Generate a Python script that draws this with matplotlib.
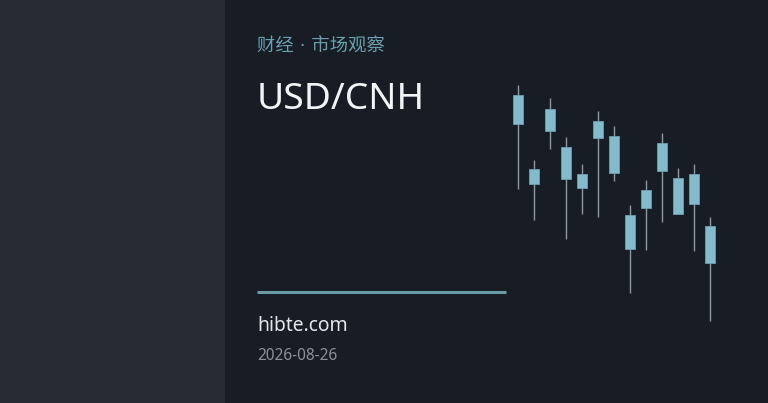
import matplotlib
matplotlib.use("Agg")
import matplotlib.pyplot as plt
from matplotlib.patches import Rectangle

# --- данные свечей (условные единицы цены) ---
highs = [245, 170, 232, 193, 166, 219, 204, 125, 150, 197, 162, 166, 113]
opens = [235, 161, 221, 183, 156, 209, 194, 115, 140, 187, 152, 156, 104]
closes = [206, 146, 199, 151, 142, 192, 157, 81, 122, 159, 116, 126, 67]
lows = [141, 110, 181, 91, 116, 113, 149, 37, 80, 108, 116, 79, 9]

tag_text = "财经 · 市场观察"
title_text = "USD/CNH"
site_text = "hibte.com"
date_text = "2026-08-26"

W, H = 768, 403
fig = plt.figure(figsize=(W / 100, H / 100), dpi=100)
fig.patch.set_facecolor("#181c24")

# левая панель
fig.patches.append(Rectangle((0, 0), 225 / W, 1, transform=fig.transFigure,
                             facecolor="#262a33", edgecolor="none", zorder=0))

# --- тексты ---
fig.text(257 / W, 1 - 47 / H, tag_text, color="#6a9fb0", fontsize=13.2,
         family=["DejaVu Sans", "Noto Sans CJK SC"], va="center", ha="left")
fig.text(257 / W, 1 - 100 / H, title_text, color="#f2f4f6", fontsize=26.8,
         family=["Noto Sans", "DejaVu Sans"], va="center", ha="left")
fig.text(257 / W, 1 - 326 / H, site_text, color="#e4e7ea", fontsize=13.9,
         family=["Noto Sans", "DejaVu Sans"], va="center", ha="left")
fig.text(257 / W, 1 - 356.5 / H, date_text, color="#8a9099", fontsize=11.1,
         family=["Noto Sans", "DejaVu Sans"], va="center", ha="left")

# линия-разделитель
fig.add_artist(plt.Line2D([257 / W, 506 / W], [1 - 292.3 / H] * 2,
                          transform=fig.transFigure, color="#6a9ca8",
                          linewidth=2.2, solid_capstyle="butt"))

# --- свечи ---
ax = fig.add_axes([500 / W, 1 - 330 / H, 230 / W, 250 / H])
ax.set_facecolor("none")
ax.set_xlim((500 - 518.3) / 16, (730 - 518.3) / 16)
ax.set_ylim(0, 250)
ax.axis("off")

body_w = 0.62
for i in range(len(highs)):
    ax.plot([i, i], [lows[i], highs[i]], color="#8a9ba5", linewidth=1.0,
            zorder=1, solid_capstyle="butt")
    bottom = min(opens[i], closes[i])
    height = abs(opens[i] - closes[i])
    ax.add_patch(Rectangle((i - body_w / 2, bottom), body_w, height,
                           facecolor="#85bacb", edgecolor="#6f9fb0",
                           linewidth=0.6, zorder=2))

fig.savefig("out.png", dpi=100, facecolor=fig.get_facecolor())
